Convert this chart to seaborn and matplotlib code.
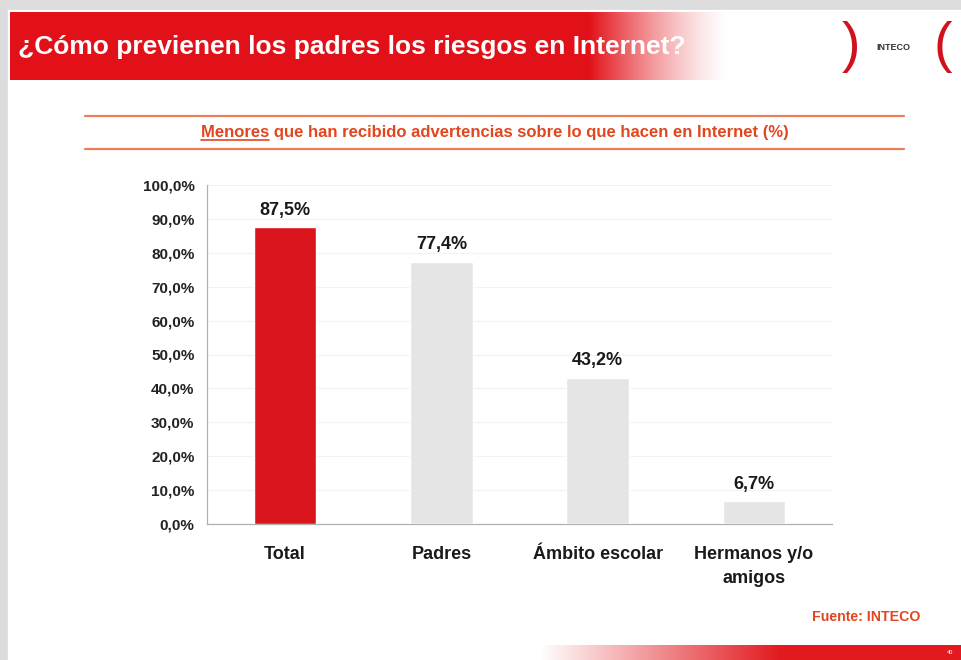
import numpy as np
import pandas as pd
import matplotlib.pyplot as plt
import seaborn as sns
from matplotlib.ticker import FuncFormatter, FixedLocator

# Data
categories = ["Total", "Padres", "Ámbito escolar", "Hermanos y/o\namigos"]
values = [87.5, 77.4, 43.2, 6.7]
value_labels = ["87,5%", "77,4%", "43,2%", "6,7%"]

# Colours
red = "#DA141C"
grey_bar = "#E5E5E5"
orange = "#E2461E"
bar_colors = [red, grey_bar, grey_bar, grey_bar]

sns.set_style("white")
plt.rcParams["font.family"] = ["Liberation Sans", "DejaVu Sans"]

W, H = 961, 660
fig = plt.figure(figsize=(W / 100, H / 100), dpi=100)
fig.patch.set_facecolor("#dcdcdc")

# Background slide (pixel coordinates)
bg = fig.add_axes([0, 0, 1, 1])
bg.set_xlim(0, W)
bg.set_ylim(H, 0)
bg.axis("off")
bg.add_patch(plt.Rectangle((8, 10), W - 8, H - 10, color="white", zorder=0))

# Header band with fade to white
xs = np.linspace(10, W, 600)
alpha = np.clip((730 - xs) / 140, 0, 1)
alpha = alpha ** 1.4
rgba = np.zeros((1, len(xs), 4))
rgba[..., :3] = [0.89, 0.07, 0.10]
rgba[..., 3] = alpha
bg.imshow(rgba, extent=[10, W, 80, 12], aspect="auto", zorder=1, interpolation="bilinear")

# Bottom band
xs2 = np.linspace(8, W, 600)
alpha2 = np.clip((xs2 - 540) / 240, 0, 1)
rgba2 = np.zeros((1, len(xs2), 4))
rgba2[..., :3] = [0.89, 0.10, 0.12]
rgba2[..., 3] = alpha2
bg.imshow(rgba2, extent=[8, W, 660, 645], aspect="auto", zorder=1, interpolation="bilinear")
bg.text(950, 653, "40", color="white", fontsize=4, ha="center", va="center", zorder=2)

bg.set_xlim(0, W)
bg.set_ylim(H, 0)

# Title
bg.text(18, 47, "¿Cómo previenen los padres los riesgos en Internet?", color="white",
        fontsize=19, fontweight="bold", va="center", ha="left", zorder=3)

# Logo
bg.text(851, 47, ")", color="#D0121C", fontsize=40, ha="center", va="center", zorder=3)
bg.text(893, 47, "INTECO", color="#333333", fontsize=6.5, fontweight="bold", ha="center", va="center", zorder=3)
bg.text(943, 47, "(", color="#D0121C", fontsize=40, ha="center", va="center", zorder=3)

# Subtitle with rules
bg.plot([85, 904], [116, 116], color="#E8805C", lw=1.6, zorder=2)
bg.plot([85, 904], [149, 149], color="#E8805C", lw=1.6, zorder=2)
sub = bg.text(495, 133, "Menores que han recibido advertencias sobre lo que hacen en Internet (%)",
              color=orange, fontsize=12, fontweight="bold", ha="center", va="center", zorder=3)

# Source
bg.text(866, 617, "Fuente: INTECO", color=orange, fontsize=10.2, fontweight="bold",
        ha="center", va="center", zorder=3)

# Chart
ax = fig.add_axes([207 / W, 1 - 524 / H, (832 - 207) / W, (524 - 185) / H])
ax.set_zorder(2)
ax.patch.set_alpha(0)
df = pd.DataFrame({"cat": categories, "val": values})
sns.barplot(data=df, x="cat", y="val", hue="cat", palette=bar_colors, width=0.4,
            legend=False, ax=ax, saturation=1, zorder=3)

ax.set_xlim(-0.5, 3.5)
ax.set_ylim(0, 100)
ax.set_yticks(np.arange(0, 101, 10))
ax.yaxis.set_major_formatter(FuncFormatter(lambda v, p: f"{v:.1f}%".replace(".", ",")))
ax.set_xlabel("")
ax.set_ylabel("")
ax.grid(axis="y", color="#f2f2f2", lw=0.8, zorder=0)
for s in ["top", "right"]:
    ax.spines[s].set_visible(False)
for s in ["left", "bottom"]:
    ax.spines[s].set_color("#b0b0b0")
    ax.spines[s].set_linewidth(0.9)

ax.tick_params(axis="y", length=5, color="#b0b0b0", labelsize=11, pad=4)
for t in ax.get_yticklabels():
    t.set_fontweight("bold")
    t.set_color("#222222")

# category labels without ticks, separator ticks at boundaries
ax.xaxis.set_major_locator(FixedLocator(range(len(categories))))
ax.set_xticklabels(categories, fontsize=13, fontweight="bold", color="#1a1a1a", va="top")
ax.tick_params(axis="x", which="major", length=0, pad=16)
ax.xaxis.set_minor_locator(FixedLocator([-0.5, 0.5, 1.5, 2.5, 3.5]))
ax.tick_params(axis="x", which="minor", length=5, color="#b0b0b0")
for t in ax.get_xticklabels():
    t.set_linespacing(1.5)

for i, (v, lab) in enumerate(zip(values, value_labels)):
    ax.annotate(lab, (i, v), xytext=(0, 6), textcoords="offset points",
                ha="center", va="bottom", fontsize=13, fontweight="bold", color="#1a1a1a")

# Underline "Menores"
fig.canvas.draw()
r = fig.canvas.get_renderer()
bb = sub.get_window_extent(r)
tmp = bg.text(0, 0, "Menores", fontsize=12, fontweight="bold")
wb = tmp.get_window_extent(r).width
tmp.remove()
inv = bg.transData.inverted()
(x0, y0) = inv.transform((bb.x0, bb.y0))
(x1, _) = inv.transform((bb.x0 + wb, bb.y0))
bg.plot([x0, x1], [y0 - 1, y0 - 1], color=orange, lw=1.2, zorder=3)

fig.savefig("out.png", dpi=100)
